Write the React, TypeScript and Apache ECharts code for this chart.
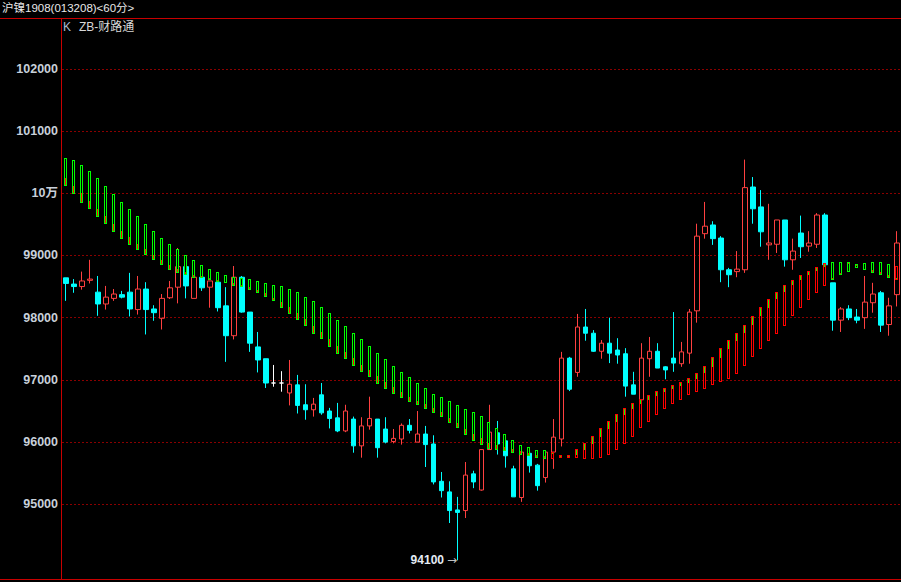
import React, { useEffect, useRef } from 'react';
import * as echarts from 'echarts';

const chartTitle = '沪镍1908(013208)<60分>';
const kLabel = 'K';
const indicatorName = 'ZB-财路通';

const yTicks = [95000, 96000, 97000, 98000, 99000, 100000, 101000, 102000];
const lowMark = 94100;
const lowMarkIndex = 49;

const candleOpen = [
  98640, 98540, 98500, 98600, 98410, 98220, 98310, 98370, 98410, 98130,
  98460, 98140, 97990, 98320, 98490, 98820, 98310, 98650, 98490, 98570,
  98190, 97710, 98650, 98090, 97530, 97340, 96950, 96950, 96790, 96920,
  96600, 96520, 96760, 96500, 96390, 96180, 96370, 95940, 96260, 96370,
  96210, 96010, 96050, 96270, 96000, 96130, 95970, 95370, 95200, 94910,
  94900, 95490, 95230, 95880, 96150, 96020, 95570, 95110, 95820, 95630,
  95430, 95840, 96050, 97350, 97120, 97850, 97750, 97460, 97590, 97480,
  97420, 96920, 96680, 97340, 97460, 97210, 97350, 97260, 97430, 98110,
  99350, 99490, 99280, 98770, 98740, 98770, 100100, 99780, 99170, 99180,
  99570, 98930, 99360, 99150, 99180, 99650, 98560, 97960, 98140, 98010,
  98000, 98240, 98400, 97890, 98370,
];
const candleClose = [
  98550, 98500, 98590, 98620, 98220, 98330, 98380, 98330, 98140, 98460,
  98130, 98080, 98310, 98480, 98820, 98510, 98650, 98480, 98590, 98160,
  97710, 98650, 98090, 97590, 97320, 96950, 96950, 96950, 96930, 96590,
  96520, 96610, 96470, 96380, 96180, 96500, 95940, 96260, 96380, 95910,
  96000, 96060, 96270, 96190, 96130, 95960, 95360, 95220, 94900, 94870,
  95470, 95360, 95880, 96160, 95970, 95780, 95120, 95840, 95620, 95300,
  95840, 96080, 97350, 96850, 97850, 97750, 97460, 97590, 97430, 97400,
  96900, 96770, 97350, 97460, 97190, 97160, 97270, 97450, 98090, 99310,
  99470, 99270, 98770, 98690, 98780, 100090, 99750, 99380, 99200, 99570,
  98930, 99070, 99140, 99200, 99650, 98850, 97960, 98140, 98000, 97960,
  98250, 98380, 97880, 98190, 99200,
];
const candleLow = [
  98270, 98400, 98450, 98550, 98030, 98130, 98270, 98310, 98020, 98050,
  97730, 97950, 97810, 98300, 98230, 98310, 98310, 98430, 98160, 98100,
  97290, 97650, 98080, 97450, 97120, 96870, 96890, 96810, 96590, 96460,
  96360, 96410, 96440, 96220, 96160, 96160, 95830, 95750, 96200, 95750,
  95980, 95980, 95960, 96140, 96000, 95600, 95320, 95110, 94700, 94100,
  94780, 95260, 95220, 95880, 95800, 95590, 95120, 95040, 95510, 95220,
  95350, 95570, 95930, 96820, 97050, 97630, 97450, 97340, 97270, 97260,
  96730, 96770, 96680, 97050, 97190, 97010, 97130, 97210, 97260, 97920,
  99270, 99170, 98570, 98490, 98650, 98720, 99510, 99140, 98930, 99040,
  98820, 98770, 98960, 99060, 99120, 98800, 97790, 97770, 97960, 97910,
  97820, 98080, 97770, 97710, 98180,
];
const candleHigh = [
  98640, 98620, 98740, 98930, 98670, 98510, 98460, 98430, 98720, 98670,
  98570, 98200, 98380, 98590, 99120, 98820, 98650, 98650, 98590, 98570,
  98490, 98830, 98670, 98090, 97770, 97340, 97240, 97140, 97320, 97080,
  96930, 96710, 96950, 96550, 96630, 96600, 96410, 96400, 96730, 96370,
  96400, 96210, 96300, 96370, 96500, 96260, 96110, 95520, 95370, 95120,
  95680, 95540, 95880, 96600, 96340, 96020, 95620, 95840, 95820, 95650,
  95840, 96370, 97450, 97370, 98060, 98140, 97800, 97640, 98000, 97670,
  97510, 97130, 97590, 97690, 97590, 97220, 98090, 97610, 98140, 99510,
  99860, 99550, 99310, 98800, 99070, 100540, 100260, 100050, 99830, 99570,
  99570, 99270, 99640, 99390, 99680, 99680, 98560, 98170, 98200, 98140,
  98670, 98560, 98430, 98320, 99390,
];

// ZB indicator: bar extent, inner fill extent, direction (1 = red outline, -1 = green outline)
const zbTop = [
  100570, 100540, 100460, 100360, 100250, 100120, 99990, 99860, 99750, 99640,
  99510, 99390, 99280, 99190, 99100, 99010, 98930, 98850, 98780, 98740,
  98690, 98650, 98640, 98620, 98590, 98550, 98520, 98510, 98460, 98410,
  98340, 98260, 98170, 98070, 97970, 97860, 97750, 97650, 97540, 97430,
  97330, 97230, 97120, 97050, 96950, 96870, 96780, 96720, 96660, 96590,
  96540, 96480, 96420, 96320, 96220, 96130, 96030, 95960, 95920, 95880,
  95870, 95840, 95800, 95800, 95890, 95990, 96100, 96230, 96340, 96450,
  96550, 96630, 96690, 96760, 96820, 96870, 96920, 96970, 97030, 97110,
  97220, 97370, 97510, 97640, 97750, 97880, 98030, 98170, 98300, 98410,
  98530, 98610, 98690, 98750, 98820, 98880, 98890, 98900, 98900, 98860,
  98880, 98900, 98900, 98860, 98830,
];
const zbBottom = [
  100110, 99980, 99850, 99740, 99620, 99500, 99380, 99270, 99170, 99090,
  99000, 98920, 98840, 98770, 98720, 98680, 98640, 98630, 98610, 98580,
  98550, 98510, 98500, 98450, 98400, 98340, 98260, 98160, 98060, 97970,
  97860, 97740, 97650, 97530, 97420, 97330, 97230, 97120, 97040, 96940,
  96860, 96780, 96710, 96650, 96590, 96540, 96470, 96410, 96310, 96220,
  96120, 96020, 95960, 95890, 95880, 95860, 95830, 95800, 95780, 95750,
  95730, 95730, 95740, 95750, 95750, 95730, 95730, 95750, 95800, 95880,
  95970, 96090, 96220, 96330, 96440, 96540, 96620, 96680, 96750, 96810,
  96860, 96910, 96960, 97020, 97100, 97220, 97360, 97500, 97630, 97740,
  97870, 98020, 98160, 98290, 98400, 98510, 98600, 98680, 98740, 98800,
  98770, 98720, 98680, 98630, 98600,
];
const zbFillHi = [
  100250, 100120, 100000, 99880, 99750, 99640, 99510, 99400, 99290, 99190,
  99110, 99010, 98930, 98850, 98780, 98740, 98690, 98670, 98640, 98610,
  98580, 98550, 98530, 98490, 98450, 98390, 98320, 98250, 98170, 98080,
  97980, 97870, 97770, 97660, 97550, 97450, 97350, 97240, 97160, 97060,
  96970, 96890, 96810, 96730, 96660, 96610, 96550, 96480, 96390, 96310,
  96210, 96130, 96070, 95990, 95950, 95920, 95890, 95860, 95830, 95790,
  95770, 95840, 95770, 95780, 95870, 95970, 96080, 96210, 96320, 96440,
  96530, 96610, 96680, 96740, 96810, 96850, 96900, 96950, 97010, 97100,
  97210, 97350, 97500, 97630, 97740, 97870, 98010, 98160, 98280, 98400,
  98510, 98590, 98670, 98740, 98800, 98860, 98630, 98720, 98900, 98860,
  98790, 98770, 98740, 98690, 98640,
];
const zbFillLo = [
  100110, 99980, 99850, 99740, 99620, 99500, 99380, 99270, 99170, 99090,
  99000, 98920, 98840, 98770, 98720, 98680, 98640, 98630, 98610, 98580,
  98550, 98510, 98500, 98450, 98400, 98340, 98260, 98160, 98060, 97970,
  97860, 97740, 97650, 97530, 97420, 97330, 97230, 97120, 97040, 96940,
  96860, 96780, 96710, 96650, 96590, 96540, 96470, 96410, 96310, 96220,
  96120, 96020, 95960, 95890, 95880, 95860, 95830, 95800, 95780, 95750,
  95730, 95810, 95740, 95750, 95800, 95870, 95970, 96080, 96210, 96320,
  96440, 96530, 96610, 96680, 96740, 96810, 96850, 96900, 96950, 97010,
  97110, 97210, 97350, 97500, 97630, 97750, 97880, 98030, 98160, 98300,
  98410, 98530, 98610, 98690, 98750, 98820, 98600, 98680, 98860, 98830,
  98770, 98720, 98680, 98630, 98610,
];
const zbDir = [
  -1, -1, -1, -1, -1, -1, -1, -1, -1, -1,
  -1, -1, -1, -1, -1, -1, -1, -1, -1, -1,
  -1, -1, -1, -1, -1, -1, -1, -1, -1, -1,
  -1, -1, -1, -1, -1, -1, -1, -1, -1, -1,
  -1, -1, -1, -1, -1, -1, -1, -1, -1, -1,
  -1, -1, -1, -1, -1, -1, -1, -1, -1, -1,
  -1, 1, 1, 1, 1, 1, 1, 1, 1, 1,
  1, 1, 1, 1, 1, 1, 1, 1, 1, 1,
  1, 1, 1, 1, 1, 1, 1, 1, 1, 1,
  1, 1, 1, 1, 1, 1, -1, -1, -1, -1,
  -1, -1, -1, -1, 1,
];

const categories = candleOpen.map((_, i) => String(i));

const UP = '#ff4040';
const DOWN = '#00ffff';
const DOJI = '#ffffff';
const ZB_RED = '#ff0000';
const ZB_GREEN = '#00ff00';
const FRAME = '#c80000';
const GRID = '#8a0000';

export default function App() {
  const ref = useRef<HTMLDivElement>(null);

  useEffect(() => {
    if (!ref.current) return;
    const chart = echarts.init(ref.current, null, { renderer: 'svg' });

    const candleData = candleOpen.map((o, i) => {
      const v = [o, candleClose[i], candleLow[i], candleHigh[i]];
      if (o === candleClose[i]) {
        return {
          value: v,
          itemStyle: { color: DOJI, color0: DOJI, borderColor: DOJI, borderColor0: DOJI },
        };
      }
      return v;
    });

    const zbData = zbTop.map((t, i) => [i, t, zbBottom[i], zbFillHi[i], zbFillLo[i], zbDir[i]]);

    const option: any = {
      animation: false,
      backgroundColor: '#000000',
      title: [
        {
          text: chartTitle, left: 2, top: 2, padding: 0,
          textStyle: { color: '#e8e8e8', fontSize: 11.5, fontWeight: 'normal', fontFamily: '"Liberation Sans", "Noto Sans CJK SC", sans-serif' },
        },
        {
          text: kLabel, left: 63, top: 21, padding: 0,
          textStyle: { color: '#a8bccf', fontSize: 12, fontWeight: 'normal', fontFamily: '"Liberation Sans", sans-serif' },
        },
        {
          text: indicatorName, left: 79, top: 21, padding: 0,
          textStyle: { color: '#d8d8d8', fontSize: 12, fontWeight: 'normal', fontFamily: '"Liberation Sans", "Noto Sans CJK SC", sans-serif' },
        },
      ],
      grid: { left: 62, right: -1, top: 19, bottom: 3, containLabel: false },
      xAxis: {
        type: 'category',
        data: categories,
        boundaryGap: true,
        axisLine: { show: false },
        axisTick: { show: false },
        axisLabel: { show: false },
        splitLine: { show: false },
      },
      yAxis: {
        type: 'value',
        min: 93800,
        max: 102800,
        scale: true,
        axisLine: { show: false },
        axisTick: { show: false, customValues: yTicks },
        axisLabel: {
          customValues: yTicks,
          margin: 4,
          color: '#c8d0da',
          fontSize: 12.5,
          fontWeight: 'bold',
          fontFamily: '"Liberation Sans", "Noto Sans CJK SC", sans-serif',
          formatter: (v: number) => (v === 100000 ? '10万' : String(v)),
        },
        splitLine: { show: true, lineStyle: { color: GRID, width: 1, type: [2, 2] } },
      },
      graphic: [
        { type: 'line', silent: true, shape: { x1: 0, y1: 18.5, x2: 901, y2: 18.5 }, style: { stroke: FRAME, lineWidth: 1 } },
        { type: 'line', silent: true, shape: { x1: 61.5, y1: 18, x2: 61.5, y2: 580 }, style: { stroke: FRAME, lineWidth: 1 } },
        { type: 'line', silent: true, shape: { x1: 0, y1: 579.5, x2: 901, y2: 579.5 }, style: { stroke: FRAME, lineWidth: 1 } },
      ],
      series: [
        {
          type: 'candlestick',
          data: candleData,
          barWidth: 5,
          z: 2,
          itemStyle: {
            color: 'rgba(0,0,0,0)',
            color0: DOWN,
            borderColor: UP,
            borderColor0: DOWN,
            borderColorDoji: DOJI,
            borderWidth: 1,
          },
          markPoint: {
            symbol: 'circle',
            symbolSize: 1,
            itemStyle: { color: 'rgba(0,0,0,0)' },
            silent: true,
            data: [{ coord: [lowMarkIndex, lowMark], value: lowMark }],
            label: {
              show: true,
              position: 'left',
              distance: 0,
              formatter: `{v|${lowMark}}{a|→}`,
              rich: {
                v: { color: '#e4ecf4', fontSize: 12, fontWeight: 'bold', fontFamily: '"Liberation Sans", sans-serif' },
                a: { color: '#c0c0c0', fontSize: 12, fontFamily: '"DejaVu Sans", sans-serif', padding: [0, 0, 0, 3] },
              },
            },
          },
        },
        {
          type: 'custom',
          z: 3,
          data: zbData,
          encode: { x: 0, y: [1, 2] },
          renderItem: (params: any, api: any) => {
            const i = api.value(0);
            const pTop = api.coord([i, api.value(1)]);
            const pBot = api.coord([i, api.value(2)]);
            const pHi = api.coord([i, api.value(3)]);
            const pLo = api.coord([i, api.value(4)]);
            const dir = api.value(5);
            const outline = dir > 0 ? ZB_RED : ZB_GREEN;
            const fill = dir > 0 ? ZB_GREEN : ZB_RED;
            const cx = Math.round(pTop[0]);
            const yT = Math.round(pTop[1]);
            const yB = Math.max(Math.round(pBot[1]), yT + 3);
            const fy1 = Math.max(Math.round(pHi[1]), yT + 1);
            const fy2 = Math.min(Math.round(pLo[1]), yB - 1);
            const children: any[] = [
              { type: 'rect', shape: { x: cx - 2, y: yT, width: 3, height: yB - yT }, style: { fill: outline, stroke: null } },
              { type: 'rect', shape: { x: cx - 1, y: yT + 1, width: 1, height: yB - yT - 2 }, style: { fill: '#000000', stroke: null } },
            ];
            if (fy2 > fy1) {
              children.push({
                type: 'rect',
                shape: { x: cx - 1, y: fy1, width: 1, height: fy2 - fy1 },
                style: { fill, stroke: null },
              });
            }
            return { type: 'group', children };
          },
        },
      ],
    };

    chart.setOption(option);
    return () => chart.dispose();
  }, []);

  return (
    <div
      ref={ref}
      style={{ position: 'fixed', left: 0, top: 0, width: 901, height: 582, background: '#000' }}
    />
  );
}
